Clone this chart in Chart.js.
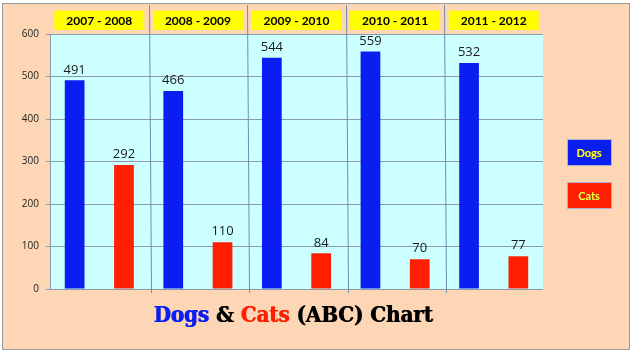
<!DOCTYPE html>
<html><head><meta charset="utf-8">
<script src="https://cdn.jsdelivr.net/npm/chart.js@4/dist/chart.umd.min.js"></script>
<style>html,body{margin:0;padding:0;background:#fff;}canvas{position:absolute;left:0;top:0;}</style>
</head><body>
<canvas id="c" width="636" height="351"></canvas>
<script>
const categories = ['2007 - 2008', '2008 - 2009', '2009 - 2010', '2010 - 2011', '2011 - 2012'];
const dogs = [491, 466, 544, 559, 532];
const cats = [292, 110, 84, 70, 77];
const yTicks = [0, 100, 200, 300, 400, 500, 600];
const seriesNames = ['Dogs', 'Cats'];
const seriesColors = ['#0A1EF2', '#FF1E00'];

const frame = {
  id: 'frame',
  beforeDraw(chart) {
    const ctx = chart.ctx;
    ctx.save();
    ctx.fillStyle = '#FDD6B6';
    ctx.fillRect(2, 3, 627, 346);
    ctx.strokeStyle = '#9a9a9a';
    ctx.lineWidth = 1;
    ctx.strokeRect(2.5, 3.5, 627, 346);
    const a = chart.chartArea;
    ctx.fillStyle = '#CCFFFF';
    ctx.fillRect(a.left, a.top, a.right - a.left, a.bottom - a.top);
    ctx.restore();
  },
  afterDatasetsDraw(chart) {
    const ctx = chart.ctx;
    const xs = chart.scales.x;
    const a = chart.chartArea;
    ctx.save();
    // separators
    ctx.strokeStyle = '#6F8DAE';
    ctx.lineWidth = 1;
    for (let i = 1; i < categories.length; i++) {
      const x = Math.round((xs.getPixelForValue(i - 1) + xs.getPixelForValue(i)) / 2) + 0.5;
      ctx.beginPath();
      ctx.moveTo(x, 5);
      ctx.lineTo(x + 2, a.bottom + 4);
      ctx.stroke();
    }
    // data labels
    ctx.fillStyle = '#1a1a1a';
    ctx.font = '13px "Open Sans"';
    ctx.textAlign = 'center';
    ctx.textBaseline = 'bottom';
    chart.data.datasets.forEach((ds, di) => {
      chart.getDatasetMeta(di).data.forEach((bar, i) => {
        ctx.fillText(String(ds.data[i]), bar.x, bar.y - 4);
      });
    });
    // legend
    const boxes = [{y: 139}, {y: 182}];
    chart.data.datasets.forEach((ds, di) => {
      const bx = 567, by = boxes[di].y, bw = 44, bh = 26;
      ctx.fillStyle = ds.backgroundColor;
      ctx.fillRect(bx, by, bw, bh);
      ctx.strokeStyle = '#b0b0c8';
      ctx.strokeRect(bx + 0.5, by + 0.5, bw, bh);
      ctx.font = 'bold 11px Lato';
      ctx.textBaseline = 'middle';
      ctx.fillStyle = '#555';
      ctx.fillText(ds.label, bx + bw / 2 + 0.7, by + bh / 2 + 1.7);
      ctx.fillStyle = '#FFFF33';
      ctx.fillText(ds.label, bx + bw / 2, by + bh / 2 + 1);
    });
    // title
    const parts = [['Dogs', seriesColors[0]], [' & ', '#000'], ['Cats', seriesColors[1]], [' (ABC) Chart', '#000']];
    ctx.font = 'bold 22px "DejaVu Serif Condensed", "DejaVu Serif"';
    ctx.textAlign = 'left';
    ctx.textBaseline = 'alphabetic';
    let total = 0;
    parts.forEach(p => total += ctx.measureText(p[0]).width);
    let x = 293 - total / 2;
    parts.forEach(p => {
      ctx.fillStyle = p[1];
      ctx.fillText(p[0], x, 322);
      ctx.fillText(p[0], x + 0.8, 322);
      x += ctx.measureText(p[0]).width;
    });
    ctx.restore();
  }
};

new Chart(document.getElementById('c'), {
  type: 'bar',
  data: {
    labels: categories,
    datasets: [
      {label: seriesNames[0], data: dogs, backgroundColor: seriesColors[0], categoryPercentage: 1.0, barPercentage: 0.4},
      {label: seriesNames[1], data: cats, backgroundColor: seriesColors[1], categoryPercentage: 1.0, barPercentage: 0.4}
    ]
  },
  options: {
    responsive: false,
    animation: false,
    devicePixelRatio: 1,
    layout: {padding: {left: 0, right: 93, top: 0, bottom: 62}},
    plugins: {legend: {display: false}, tooltip: {enabled: false}, title: {display: false}},
    scales: {
      x: {
        position: 'top',
        grid: {display: false},
        border: {display: false},
        ticks: {
          color: '#000',
          font: {family: 'Lato', weight: 'bold', size: 12},
          padding: -2,
          maxRotation: 0,
          showLabelBackdrop: true,
          backdropColor: '#FFFF00',
          backdropPadding: {left: 12, right: 12, top: 3, bottom: 2}
        },
        afterFit(s) { s.height = 34; }
      },
      y: {
        min: 0, max: 600,
        afterBuildTicks(s) { s.ticks = yTicks.map(v => ({value: v})); },
        grid: {color: '#8C9BA8', tickLength: 4, drawTicks: true},
        border: {display: true, color: '#8C9BA8'},
        ticks: {color: '#222', font: {family: 'Open Sans', size: 10}, padding: 7},
        afterFit(s) { s.width = 50; }
      }
    }
  },
  plugins: [frame]
});
</script>
</body></html>
